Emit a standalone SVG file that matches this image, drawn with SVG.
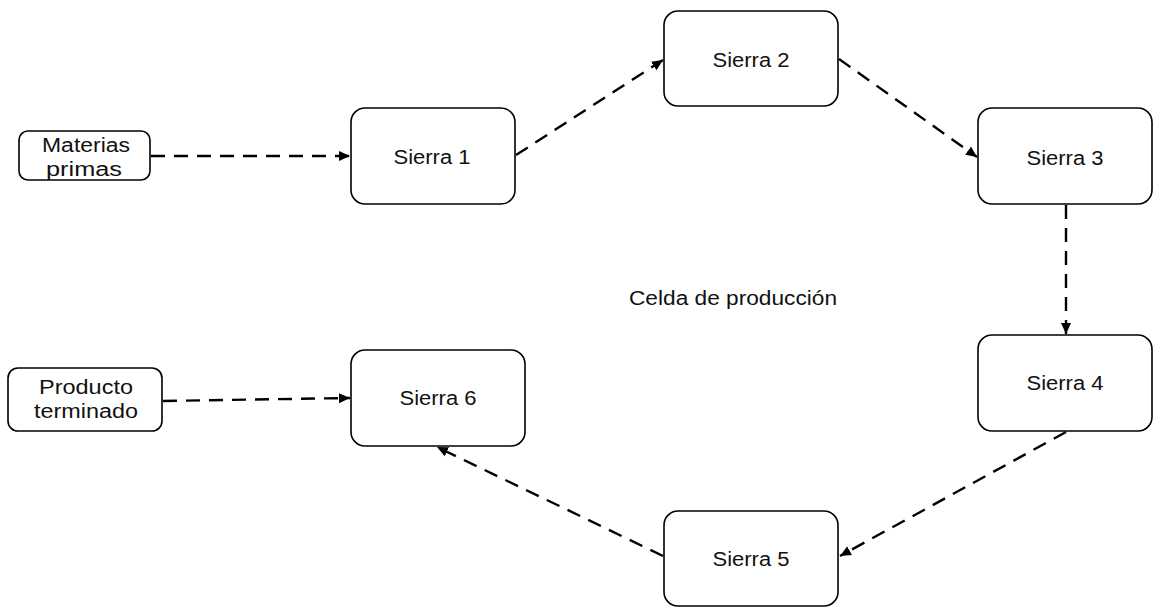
<svg xmlns="http://www.w3.org/2000/svg" width="1156" height="608" viewBox="0 0 1156 608">
<defs>
<style>
.box{fill:#fff;stroke:#000;stroke-width:1.6}
.t{font-family:"Liberation Sans",Arial,sans-serif;font-size:20px;fill:#111;text-anchor:middle}
.c{fill:none;stroke:#000;stroke-width:2.4;stroke-dasharray:14 9}
</style>
<marker id="ah" markerWidth="12" markerHeight="12" refX="11" refY="6" orient="auto" markerUnits="userSpaceOnUse">
<path d="M0,1 L11,6 L0,11 Z" fill="#000"/>
</marker>
</defs>
<rect width="1156" height="608" fill="#fff"/>
<g id="connectors">
<line class="c" x1="151" y1="156" x2="350" y2="156" marker-end="url(#ah)"/>
<line class="c" x1="516" y1="155" x2="663" y2="60" marker-end="url(#ah)"/>
<line class="c" x1="839" y1="59" x2="977" y2="157" marker-end="url(#ah)"/>
<line class="c" x1="1066" y1="205" x2="1066" y2="334" marker-end="url(#ah)"/>
<line class="c" x1="1066" y1="432" x2="840" y2="556" marker-end="url(#ah)"/>
<line class="c" x1="663" y1="556" x2="437" y2="447" marker-end="url(#ah)"/>
<line class="c" x1="163" y1="401" x2="350" y2="398" marker-end="url(#ah)"/>
</g>
<g id="materias">
<rect class="box" x="19" y="131" width="131" height="49" rx="9"/>
<text class="t" x="86" y="152" textLength="88" lengthAdjust="spacingAndGlyphs">Materias</text>
<text class="t" x="84" y="176" textLength="76" lengthAdjust="spacingAndGlyphs">primas</text>
</g>
<g id="sierra1">
<rect class="box" x="351" y="108" width="164" height="96" rx="14"/>
<text class="t" x="432" y="164" textLength="77" lengthAdjust="spacingAndGlyphs">Sierra 1</text>
</g>
<g id="sierra2">
<rect class="box" x="664" y="11" width="174" height="95" rx="14"/>
<text class="t" x="751" y="67" textLength="77" lengthAdjust="spacingAndGlyphs">Sierra 2</text>
</g>
<g id="sierra3">
<rect class="box" x="978" y="108" width="174" height="96" rx="14"/>
<text class="t" x="1065" y="165" textLength="77" lengthAdjust="spacingAndGlyphs">Sierra 3</text>
</g>
<g id="sierra4">
<rect class="box" x="978" y="335" width="174" height="96" rx="14"/>
<text class="t" x="1065" y="390" textLength="77" lengthAdjust="spacingAndGlyphs">Sierra 4</text>
</g>
<g id="sierra5">
<rect class="box" x="664" y="511" width="174" height="95" rx="14"/>
<text class="t" x="751" y="566" textLength="77" lengthAdjust="spacingAndGlyphs">Sierra 5</text>
</g>
<g id="sierra6">
<rect class="box" x="351" y="350" width="174" height="96" rx="14"/>
<text class="t" x="438" y="405" textLength="77" lengthAdjust="spacingAndGlyphs">Sierra 6</text>
</g>
<g id="producto">
<rect class="box" x="8" y="368" width="154" height="63" rx="10"/>
<text class="t" x="86" y="394" textLength="94" lengthAdjust="spacingAndGlyphs">Producto</text>
<text class="t" x="86" y="418" textLength="104" lengthAdjust="spacingAndGlyphs">terminado</text>
</g>
<g id="celda">
<text class="t" x="733" y="305" textLength="208" lengthAdjust="spacingAndGlyphs">Celda de producción</text>
</g>
</svg>
